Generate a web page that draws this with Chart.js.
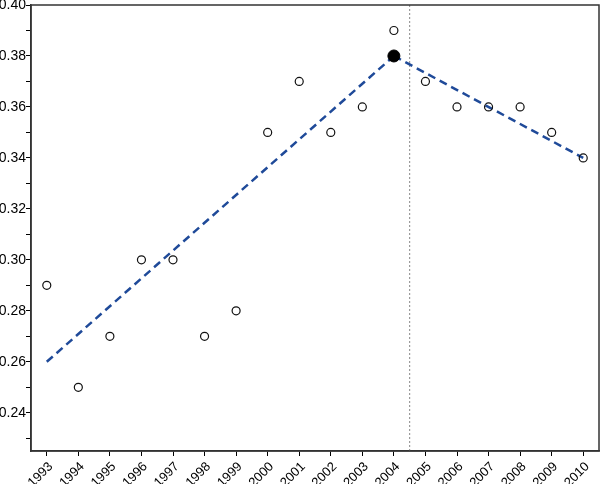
<!DOCTYPE html>
<html>
<head>
<meta charset="utf-8">
<script src="https://cdn.jsdelivr.net/npm/chart.js@4"></script>
<style>
  html, body { margin: 0; padding: 0; background: #fff; overflow: hidden; }
  #wrap { width: 600px; height: 484px; position: relative; }
</style>
</head>
<body>
<div id="wrap"><canvas id="chart"></canvas></div>
<script>
// observed values
const years = [1993, 1994, 1995, 1996, 1997, 1998, 1999, 2000, 2001, 2002, 2003, 2004, 2005, 2006, 2007, 2008, 2009, 2010];
const values = [0.29, 0.25, 0.27, 0.30, 0.30, 0.27, 0.28, 0.35, 0.37, 0.35, 0.36, 0.39, 0.37, 0.36, 0.36, 0.36, 0.35, 0.34];

// fitted segments (joinpoint model)
const trend1X = [1993, 2004];
const trend1Y = [0.26, 0.38];
const trend2X = [2004, 2010];
const trend2Y = [0.38, 0.34];
const joinX = [2004];
const joinY = [0.38];

// break marker
const breakX = 2004.5;

// axes
const xMin = 1992.5, xMax = 2010.5;
const yMin = 0.225, yMax = 0.40;
const yTicks = [0.23, 0.24, 0.25, 0.26, 0.27, 0.28, 0.29, 0.30, 0.31, 0.32, 0.33, 0.34, 0.35, 0.36, 0.37, 0.38, 0.39, 0.40];
const yLabels = ['0.24', '0.26', '0.28', '0.30', '0.32', '0.34', '0.36', '0.38', '0.40'];

const pts = (xs, ys) => xs.map((x, i) => ({ x: x, y: ys[i] }));

const frame = {
    id: 'frame',
    afterDraw(chart) {
        const a = chart.chartArea;
        const ctx = chart.ctx;
        ctx.save();
        ctx.strokeStyle = '#333';
        ctx.lineWidth = 1.5;
        ctx.strokeRect(a.left, a.top, a.right - a.left, a.bottom - a.top);
        ctx.restore();
    }
};

new Chart(document.getElementById('chart'), {
    type: 'scatter',
    data: {
        datasets: [
            {
                data: pts([breakX, breakX], [yMin, yMax]),
                showLine: true,
                borderColor: '#888',
                borderWidth: 1,
                borderDash: [2, 2],
                pointRadius: 0,
                order: 5
            },
            {
                data: pts(trend1X, trend1Y),
                showLine: true,
                borderColor: '#1f4a99',
                borderWidth: 2.5,
                borderDash: [8, 5],
                pointRadius: 0,
                order: 4
            },
            {
                data: pts(trend2X, trend2Y),
                showLine: true,
                borderColor: '#1f4a99',
                borderWidth: 2.5,
                borderDash: [8, 5],
                pointRadius: 0,
                order: 3
            },
            {
                data: pts(years, values),
                backgroundColor: 'rgba(255,255,255,0)',
                borderColor: '#111',
                borderWidth: 1.2,
                pointRadius: 4,
                order: 2
            },
            {
                data: pts(joinX, joinY),
                backgroundColor: '#000',
                borderColor: '#000',
                pointRadius: 6,
                order: 1
            }
        ]
    },
    options: {
        responsive: true,
        maintainAspectRatio: false,
        animation: false,
        layout: { autoPadding: false, padding: { top: 5, right: 1, left: 0, bottom: 0 } },
        plugins: {
            legend: { display: false },
            tooltip: { enabled: false }
        },
        scales: {
            x: {
                type: 'linear',
                min: xMin,
                max: xMax,
                afterBuildTicks: (s) => { s.ticks = years.map(v => ({ value: v })); },
                afterFit: (s) => { s.height = 33; s.paddingLeft = 0; s.paddingRight = 0; },
                grid: { drawOnChartArea: false, drawTicks: true, tickLength: 5, color: '#000' },
                border: { display: true, color: '#333', width: 1.5 },
                ticks: {
                    autoSkip: false,
                    maxRotation: 45,
                    minRotation: 45,
                    padding: 3,
                    labelOffset: 4,
                    color: '#000',
                    font: { family: 'Liberation Sans', size: 13 },
                    callback: (v) => String(v)
                }
            },
            y: {
                min: yMin,
                max: yMax,
                afterBuildTicks: (s) => { s.ticks = yTicks.map(v => ({ value: v })); },
                afterFit: (s) => { s.width = 31; s.paddingTop = 0; s.paddingBottom = 0; },
                grid: { drawOnChartArea: false, drawTicks: true, tickLength: 5, color: '#000' },
                border: { display: true, color: '#333', width: 1.5 },
                ticks: {
                    padding: 0,
                    color: '#000',
                    font: { family: 'Liberation Sans', size: 14 },
                    callback: (v) => {
                        const t = Number(v).toFixed(2);
                        return yLabels.includes(t) ? t : '';
                    }
                }
            }
        }
    },
    plugins: [frame]
});
</script>
</body>
</html>
